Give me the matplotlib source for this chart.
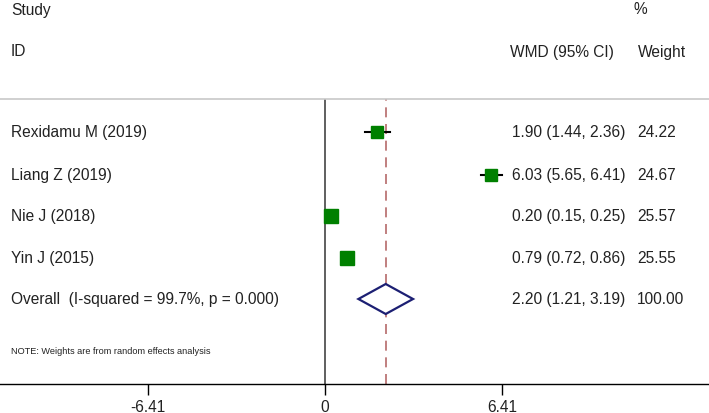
import matplotlib
matplotlib.use("Agg")
import matplotlib.pyplot as plt
import numpy as np

plt.rcParams['font.family'] = ['Liberation Sans', 'DejaVu Sans']

studies = ["Rexidamu M (2019)", "Liang Z (2019)", "Nie J (2018)", "Yin J (2015)"]
es = [1.90, 6.03, 0.20, 0.79]
lo = [1.44, 5.65, 0.15, 0.72]
hi = [2.36, 6.41, 0.25, 0.86]
weights = [24.22, 24.67, 25.57, 25.55]
overall_label = "Overall  (I-squared = 99.7%, p = 0.000)"
overall_es, overall_lo, overall_hi = 2.20, 1.21, 3.19
overall_weight = 100.00
xticks = [-6.41, 0, 6.41]
xticklabels = ["-6.41", "0", "6.41"]

W, H = 709, 414
fig = plt.figure(figsize=(W / 100, H / 100), dpi=100)
px_per_unit = 27.6
x0_px = 325
xmin = -x0_px / px_per_unit
xmax = (W - x0_px) / px_per_unit
ax_bottom_px, ax_top_px = 385, 100
ax = fig.add_axes([0, (H - ax_bottom_px) / H, 1, (ax_bottom_px - ax_top_px) / H])
ax.set_xlim(xmin, xmax)
ax.set_ylim(ax_bottom_px, ax_top_px)

for s in ["left", "right"]:
    ax.spines[s].set_visible(False)
ax.spines["top"].set_color("#c8c8c8")
ax.spines["top"].set_linewidth(1.2)
ax.spines["bottom"].set_color("black")
ax.spines["bottom"].set_linewidth(1.0)
ax.set_yticks([])
ax.set_xticks(xticks)
ax.set_xticklabels(xticklabels, fontsize=11.2, color="#222222")
ax.tick_params(axis="x", length=8, width=1.0, color="black", pad=3)

def xpx(px):
    return (px - x0_px) / px_per_unit

# zero line and overall dashed line
ax.axvline(0, color="#444444", lw=1.2, zorder=1)
ax.axvline(overall_es, color="#b56a6a", lw=1.2, ls=(0, (6, 4)), zorder=1)

row_y = [133, 176, 217, 259]
fs = 11.2
tc = "#222222"
for i, y in enumerate(row_y):
    ax.plot([lo[i], hi[i]], [y, y], color="black", lw=1.5, zorder=2)
    side = 13.0 * np.sqrt(weights[i] / 25.0) * 0.72
    ax.plot(es[i], y, marker="s", ms=side, color="#008000", mec="#008000", zorder=3)
    ax.text(xpx(11), y, studies[i], ha="left", va="center", fontsize=fs, color=tc)
    ax.text(xpx(512), y, f"{es[i]:.2f} ({lo[i]:.2f}, {hi[i]:.2f})", ha="left", va="center", fontsize=fs, color=tc)
    ax.text(xpx(637), y, f"{weights[i]:.2f}", ha="left", va="center", fontsize=fs, color=tc)

oy = 300
dh = 15
ax.fill([overall_lo, overall_es, overall_hi, overall_es, overall_lo],
        [oy, oy - dh, oy, oy + dh, oy], facecolor="white", edgecolor="#1c1f73", lw=1.6, zorder=4)
ax.text(xpx(11), oy, overall_label, ha="left", va="center", fontsize=fs, color=tc)
ax.text(xpx(512), oy, f"{overall_es:.2f} ({overall_lo:.2f}, {overall_hi:.2f})", ha="left", va="center", fontsize=fs, color=tc)
ax.text(xpx(637), oy, f"{overall_weight:.2f}", ha="left", va="center", fontsize=fs, color=tc)

ax.text(xpx(11), 352, "NOTE: Weights are from random effects analysis", ha="left", va="center", fontsize=6.6, color=tc)

# headers
ax.text(xpx(11), 10, "Study", ha="left", va="center", fontsize=fs, color=tc, clip_on=False)
ax.text(xpx(11), 52, "ID", ha="left", va="center", fontsize=fs, color=tc, clip_on=False)
ax.text(xpx(510), 52, "WMD (95% CI)", ha="left", va="center", fontsize=fs, color=tc, clip_on=False)
ax.text(xpx(634), 10, "%", ha="left", va="center", fontsize=fs, color=tc, clip_on=False)
ax.text(xpx(638), 52, "Weight", ha="left", va="center", fontsize=fs, color=tc, clip_on=False)

fig.savefig("out.png", dpi=100)
